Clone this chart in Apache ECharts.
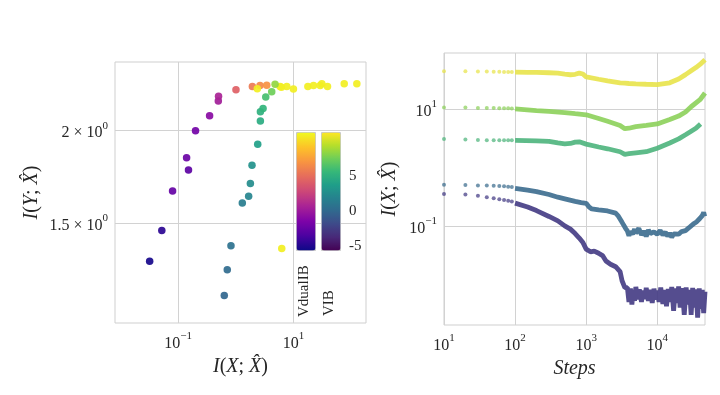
<!DOCTYPE html>
<html><head><meta charset="utf-8">
<script src="https://cdn.jsdelivr.net/npm/echarts@6/dist/echarts.min.js"></script>
<style>html,body{margin:0;padding:0;background:#fff}#c{width:720px;height:395px}</style>
</head><body><div id="c"></div>
<script>
// ---------- Left panel: I(Y;X^) vs I(X;X^) ----------
const dualX = [0.032, 0.052, 0.080, 0.151, 0.140, 0.200, 0.351, 0.497, 0.502, 1.007, 1.94, 2.63, 3.44, 2.36, 5.86, 6.18, 7.67, 10.0, 17.8, 22.3, 29.1, 31.1, 39.0, 76, 126, 6.27];
const dualY = [1.332, 1.465, 1.657, 1.769, 1.839, 2.000, 2.096, 2.194, 2.226, 2.273, 2.296, 2.303, 2.305, 2.280, 2.296, 2.290, 2.296, 2.278, 2.296, 2.303, 2.303, 2.315, 2.296, 2.315, 2.315, 1.385];
const dualBeta = [-5.3, -4.6, -2.4, -2.8, -2.2, -1.8, -0.8, 0.4, 0.8, 4.4, 5.8, 6.6, 7.0, 11, 11, 11, 11, 11, 11, 11, 11, 11, 11, 11, 11, 11];
const vibX = [0.631, 0.711, 0.824, 1.297, 1.67, 1.79, 1.91, 2.40, 2.67, 2.67, 2.97, 3.31, 4.2, 4.80];
const vibY = [1.197, 1.297, 1.398, 1.597, 1.630, 1.697, 1.796, 1.917, 2.062, 2.122, 2.144, 2.222, 2.258, 2.311];
const vibBeta = [0.0, 0.3, 0.7, 1.6, 2.1, 2.6, 3.0, 4.0, 4.8, 5.2, 5.5, 6.3, 7.6, 8.6];
const betaMin = -5.6, betaMax = 11.4;
const colorbarTicks = [-5, 0, 5];
const leftXTicks = [0.1, 10];
const leftYTicks = [1.5, 2];

// ---------- Right panel: I(X;X^) vs Steps ----------
const rightXTicks = [10, 100, 1000, 10000];
const rightYTicks = [0.1, 10];
const dotSteps = [10, 20, 30, 40, 50, 60, 70, 80, 90];
const s1Dots = [44.3, 44.2, 44.0, 43.8, 43.6, 43.4, 43.3, 43.1, 43.0];
const s2Dots = [10.6, 10.6, 10.4, 10.4, 10.4, 10.3, 10.3, 10.3, 10.2];
const s3Dots = [3.06, 3.0, 2.95, 2.93, 2.92, 2.92, 2.92, 2.92, 2.92];
const s4Dots = [0.504, 0.50, 0.49, 0.49, 0.485, 0.48, 0.475, 0.47, 0.465];
const s5Dots = [0.35, 0.345, 0.327, 0.31, 0.297, 0.285, 0.277, 0.27, 0.262];

const s1Steps = [100,150,200,300,400,500,600,700,800,900,1000,1500,2000,3000,3500,4000,5000,7000,10000,15000,20000,25000,30000,35000,40000,47000];
const s1Vals = [42.9,42.5,42.4,41.9,41.2,39.8,38.7,39.4,41.2,39.8,35.5,32.4,30.4,28.0,27.7,27.4,27.0,26.6,26.2,28.2,32.7,38.9,45.2,51.3,58.2,70.0];
const s2Steps = [100,200,300,500,700,1000,1500,2000,3000,3500,4000,5000,7000,10000,15000,20000,25000,30000,40000,47000];
const s2Vals = [10.1,9.44,9.12,8.71,8.32,7.98,6.9,6.17,5.25,4.62,4.70,5.01,5.25,5.56,6.61,7.59,8.91,10.96,14.45,18.8];
const s3Steps = [100,200,300,400,500,600,700,800,1000,1500,2000,3000,3500,4000,5000,7000,10000,15000,20000,25000,30000,35000,40700];
const s3Vals = [2.90,2.86,2.79,2.63,2.54,2.58,2.72,2.75,2.51,2.24,2.09,1.86,1.68,1.72,1.78,1.86,2.14,2.63,3.09,3.63,4.17,4.68,5.53];
const s4Steps = [100,150,200,300,400,500,700,850,1000,1100,1200,1500,2000,2600,2800,3200,3600,3800,4000,4200,4500,4800,5000,5500,6000,6500,7000,7500,8000,9000,10000,11000,12000,13000,14000,15000,16000,17000,18000,20000,22000,25000,28000,30000,33000,36000,40000,43000,45000,46500];
const s4Vals = [0.44,0.41,0.387,0.345,0.31,0.29,0.262,0.25,0.243,0.21,0.195,0.188,0.18,0.165,0.15,0.115,0.09,0.082,0.068,0.080,0.072,0.088,0.075,0.091,0.070,0.082,0.066,0.085,0.074,0.079,0.072,0.083,0.070,0.078,0.067,0.075,0.064,0.073,0.068,0.072,0.080,0.083,0.093,0.10,0.11,0.118,0.135,0.15,0.17,0.145];
const s5Steps = [100,150,200,300,400,500,600,700,800,900,1000,1150,1300,1500,1700,1900,2200,2600,3000,3200,3500,3800,4000,4200,4400,4600,4800,5000,5300,5600,6000,6300,6700,7000,7500,8000,8500,9000,9500,10000,10600,11200,12000,12700,13500,14300,15000,16000,17000,18000,19000,20000,21000,22500,24000,25500,27000,28500,30000,31500,33000,35000,37000,39000,41000,43000,45000,47000];
const s5Vals = [0.245,0.21,0.183,0.145,0.122,0.1,0.088,0.074,0.062,0.052,0.040,0.036,0.037,0.034,0.031,0.025,0.022,0.020,0.0165,0.0115,0.0088,0.0088,0.0050,0.0085,0.0045,0.0080,0.0052,0.0090,0.0055,0.0082,0.0050,0.0078,0.0056,0.0087,0.0052,0.0080,0.0048,0.0084,0.0055,0.0078,0.0050,0.0088,0.0046,0.0080,0.0042,0.0083,0.0050,0.0090,0.0035,0.0085,0.0048,0.0092,0.0040,0.0086,0.0030,0.0088,0.0045,0.0080,0.0030,0.0087,0.0040,0.0082,0.0027,0.0085,0.0038,0.0080,0.0032,0.0075];
const seriesColors = ['#e8e34a', '#8cd05a', '#4db47c', '#3b6c8e', '#433a83'];

const plasma = ['#0d0887','#4c02a1','#7e03a8','#a92395','#cc4778','#e56b5d','#f89441','#fdc328','#f0f921'];
const viridis = ['#440154','#482878','#3e4989','#31688e','#26828e','#1f9e89','#35b779','#6ece58','#b5de2b','#fde725'];

const F = '"Liberation Serif", "DejaVu Serif", serif';
const C = '#262626';
const G = '#d2d2d2';
const L = v => Math.log10(v);

const tickRich = {
  b: {fontSize: 16, fontFamily: F, color: C, lineHeight: 21, verticalAlign: 'bottom'},
  sup: {fontSize: 11, fontFamily: F, color: C, lineHeight: 12, verticalAlign: 'top'}
};
const nameRich = {
  it: {fontSize: 20, fontFamily: F, fontStyle: 'italic', color: C},
  n: {fontSize: 20, fontFamily: F, color: C}
};
function pow10Label(v) {
  const e = Math.round(v);
  return '{b|10}{sup|' + (e < 0 ? '\u2212' + (-e) : e) + '}';
}
function mantLabel(v) {
  const m = Math.round(Math.pow(10, v) * 10) / 10;
  return '{b|' + m + ' \u00d7 10}{sup|0}';
}
function logAxis(o) {
  return Object.assign({
    type: 'value',
    axisLine: {show: false, onZero: false},
    splitLine: {show: false},
    axisTick: {show: true, inside: true, customValues: o.ticks.map(L), length: o.len, lineStyle: {color: G, width: 1}},
    axisLabel: {customValues: o.ticks.map(L), formatter: o.fmt, rich: tickRich, margin: o.margin},
    nameLocation: 'middle',
    nameTextStyle: {rich: nameRich}
  }, o.extra);
}
const hatName = v => '{it|I}{n|(}{it|' + v + '}{n|; }{it|X\u0302}{n|)}';

const chart = echarts.init(document.getElementById('c'), null, {renderer: 'canvas'});
const dotSets = [s1Dots, s2Dots, s3Dots, s4Dots, s5Dots];
const lineSets = [[s1Steps, s1Vals], [s2Steps, s2Vals], [s3Steps, s3Vals], [s4Steps, s4Vals], [s5Steps, s5Vals]];
const series = [
  {type: 'scatter', xAxisIndex: 0, yAxisIndex: 0, symbolSize: 7.5, itemStyle: {opacity: 0.92},
   data: dualX.map((x, i) => [L(x), L(dualY[i]), dualBeta[i]])},
  {type: 'scatter', xAxisIndex: 0, yAxisIndex: 0, symbolSize: 7.5, itemStyle: {opacity: 0.92},
   data: vibX.map((x, i) => [L(x), L(vibY[i]), vibBeta[i]])}
];
dotSets.forEach((d, k) => series.push({
  type: 'scatter', xAxisIndex: 1, yAxisIndex: 1, symbolSize: 4, itemStyle: {color: seriesColors[k], opacity: 0.72},
  data: dotSteps.map((s, i) => [L(s), L(d[i])])
}));
lineSets.forEach((p, k) => series.push({
  type: 'line', xAxisIndex: 1, yAxisIndex: 1, symbol: 'none', showSymbol: false,
  lineStyle: {color: seriesColors[k], width: 4.8, opacity: 0.9}, itemStyle: {color: seriesColors[k]},
  data: p[0].map((s, i) => [L(s), L(p[1][i])])
}));

chart.setOption({
  animation: false,
  backgroundColor: '#fff',
  grid: [
    {left: 115, top: 62, width: 251, height: 261, show: true, borderColor: '#cfcfcf', borderWidth: 1},
    {left: 444, top: 53, width: 261, height: 272, show: true, borderColor: '#cfcfcf', borderWidth: 1},
    {left: 321, top: 132, width: 20, height: 118}
  ],
  xAxis: [
    logAxis({ticks: leftXTicks, len: 261, fmt: pow10Label, margin: 8,
      extra: {gridIndex: 0, min: -2.096, max: 2.259, name: hatName('X'), nameGap: 32}}),
    logAxis({ticks: rightXTicks, len: 272, fmt: pow10Label, margin: 8,
      extra: {gridIndex: 1, min: 1, max: 4.672, name: '{it|Steps}', nameGap: 28}}),
    {gridIndex: 2, type: 'value', show: false}
  ],
  yAxis: [
    logAxis({ticks: leftYTicks, len: 251, fmt: mantLabel, margin: 7,
      extra: {gridIndex: 0, min: 0.0408, max: 0.394, name: hatName('Y'), nameGap: 73}}),
    logAxis({ticks: rightYTicks, len: 261, fmt: pow10Label, margin: 7,
      extra: {gridIndex: 1, min: -2.697, max: 1.96, name: hatName('X'), nameGap: 44}}),
    {gridIndex: 2, type: 'value', position: 'right', min: betaMin, max: betaMax,
     axisLine: {show: false, onZero: false}, axisTick: {show: false}, splitLine: {show: false},
     axisLabel: {customValues: colorbarTicks, margin: 8, fontSize: 15, fontFamily: F, color: C, formatter: v => String(v)}}
  ],
  visualMap: [
    {type: 'continuous', seriesIndex: 0, dimension: 2, min: betaMin, max: betaMax, inRange: {color: plasma},
     left: 296, top: 132, itemWidth: 19, itemHeight: 118, calculable: false, hoverLink: false,
     padding: 0, borderColor: '#c8c8c8', borderWidth: 1},
    {type: 'continuous', seriesIndex: 1, dimension: 2, min: betaMin, max: betaMax, inRange: {color: viridis},
     left: 321, top: 132, itemWidth: 19, itemHeight: 118, calculable: false, hoverLink: false,
     padding: 0, borderColor: '#c8c8c8', borderWidth: 1}
  ],
  graphic: [
    {type: 'text', x: 304, y: 317, rotation: Math.PI / 2,
     style: {text: 'VdualIB', font: '15px "Liberation Serif"', fill: C, align: 'left', verticalAlign: 'middle', textAlign: 'left', textVerticalAlign: 'middle'}},
    {type: 'text', x: 329, y: 316, rotation: Math.PI / 2,
     style: {text: 'VIB', font: '15px "Liberation Serif"', fill: C, align: 'left', verticalAlign: 'middle', textAlign: 'left', textVerticalAlign: 'middle'}}
  ],
  series: series
});
</script></body></html>
